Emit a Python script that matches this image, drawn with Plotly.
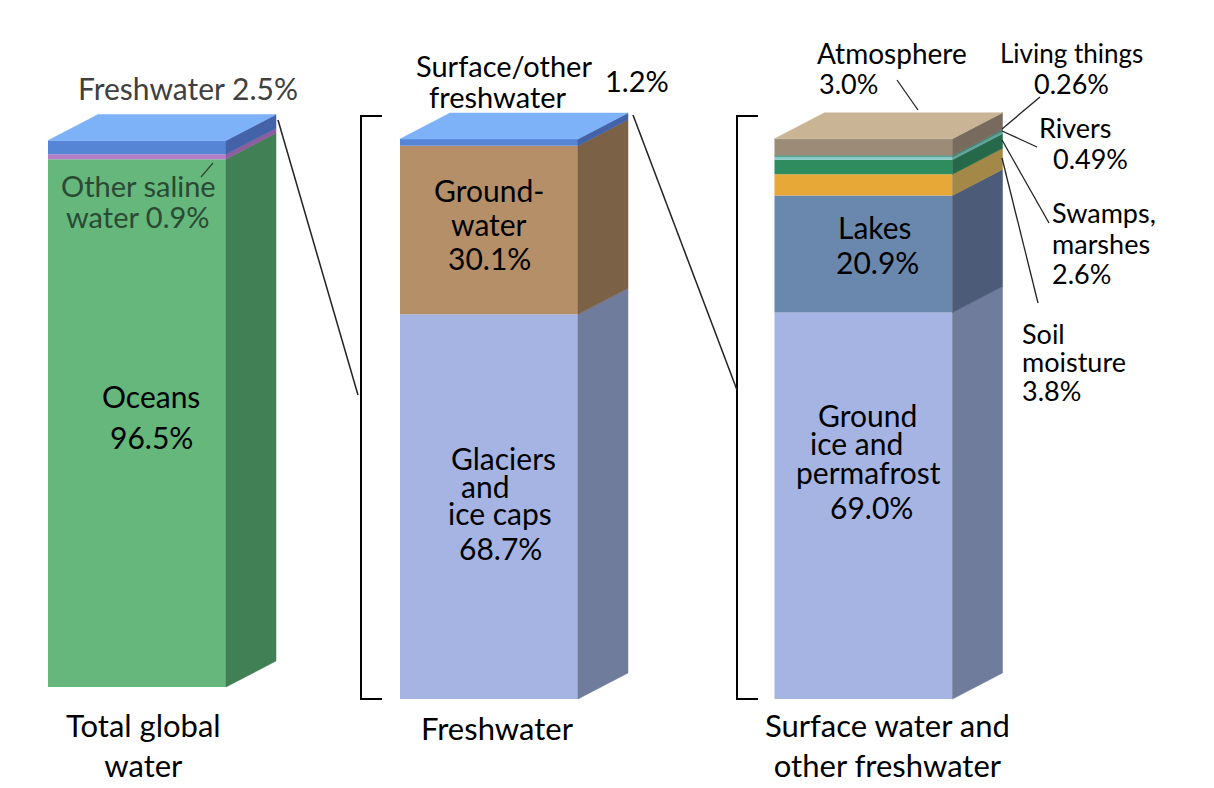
import plotly.graph_objects as go
import numpy as np

# ---------------- data ----------------
total_labels = ["Oceans", "Other saline water", "Freshwater"]
total_values = [96.5, 0.9, 2.5]

fresh_labels = ["Glaciers and ice caps", "Groundwater", "Surface/other freshwater"]
fresh_values = [68.7, 30.1, 1.2]

surface_labels = ["Ground ice and permafrost", "Lakes", "Soil moisture",
                  "Swamps, marshes", "Rivers", "Living things", "Atmosphere"]
surface_values = [69.0, 20.9, 3.8, 2.6, 0.49, 0.26, 3.0]

category_labels = ["Total global<br>water", "Freshwater",
                   "Surface water and<br>other freshwater"]

# ---------------- styles ----------------
OFF = 8                      # page body margin of the browser
W, H = 1214 - OFF, 788 - OFF
FONT = "Lato"

total_front = ["#65b77c", "#b57dc7", "#5685d6"]
total_side = ["#417f55", "#8c5e9c", "#4462a8"]
fresh_front = ["#a5b4e3", "#b48f67", "#5685d6"]
fresh_side = ["#707c9b", "#7b6247", "#4462a8"]
surf_front = ["#a5b4e3", "#6a88ad", "#e8a838", "#2f8c5e", "#86c5c2", "#5aa58f", "#9c8b77"]
surf_side = ["#707c9b", "#4b5b78", "#a38848", "#25694a", "#5fa39a", "#3f7f6c", "#786b5e"]
top_blue = "#7db1f8"
top_tan = "#c9b596"

BAR_W = 178
DX = 50          # depth, px to the right
DY_PX = 26       # depth, px upward

bars = [
    dict(cx=137, axis="y", values=total_values, labels=total_labels,
         front=total_front, side=total_side, top=top_blue),
    dict(cx=489, axis="y2", values=fresh_values, labels=fresh_labels,
         front=fresh_front, side=fresh_side, top=top_blue),
    dict(cx=863.5, axis="y3", values=surface_values, labels=surface_labels,
         front=surf_front, side=surf_side, top=top_tan),
]

# reference pixel rows of value 0 and value 100 for each axis
axis_px = {"y": (687, 140), "y2": (699, 139), "y3": (699, 139)}


def axis_range(bottom_px, top_px):
    s = (bottom_px - top_px) / 100.0
    b = bottom_px - OFF
    t = top_px - OFF
    return [-(H - b) / s, 100 + t / s], s


def py(y):
    return 1 - (y - OFF) / H


fig = go.Figure()

for b in bars:
    ax = b["axis"]
    rng, s = axis_range(*axis_px[ax])
    dd = DY_PX / s
    vals = np.array(b["values"], dtype=float)
    bases = np.concatenate([[0], np.cumsum(vals)[:-1]])
    xl = b["cx"] - BAR_W / 2
    xr = b["cx"] + BAR_W / 2
    for v, base, lab, fc in zip(vals, bases, b["labels"], b["front"]):
        fig.add_trace(go.Bar(x=[b["cx"]], y=[v], base=[base], width=BAR_W,
                             marker=dict(color=fc, line=dict(width=0)),
                             name=lab, yaxis=ax, showlegend=False,
                             hovertemplate=f"{lab}: {v}%<extra></extra>"))
    for v, base, sc in zip(vals, bases, b["side"]):
        top = base + v
        fig.add_trace(go.Scatter(
            x=[xr, xr + DX, xr + DX, xr, xr],
            y=[base, base + dd, top + dd, top, base],
            fill="toself", fillcolor=sc, mode="lines",
            line=dict(width=0.5, color=sc), yaxis=ax,
            showlegend=False, hoverinfo="skip"))
    T = vals.sum()
    fig.add_trace(go.Scatter(
        x=[xl, xr, xr + DX, xl + DX, xl],
        y=[T, T, T + dd, T + dd, T],
        fill="toself", fillcolor=b["top"], mode="lines",
        line=dict(width=0.5, color=b["top"]), yaxis=ax,
        showlegend=False, hoverinfo="skip"))

# ---------------- annotations ----------------
M = 30   # main label size
R = 27   # right-side label size
texts = [
    ("Freshwater 2.5%", 188, 88, "center", "#404040", 30),
    ("Other saline", 138, 186, "center", "#2b4a33", 29),
    ("water 0.9%", 138, 217, "center", "#2b4a33", 29),
    ("Oceans", 151, 396, "center", "black", M),
    ("96.5%", 151, 437, "center", "black", M),
    ("Surface/other", 504, 66, "center", "black", 29),
    ("freshwater", 498, 96, "center", "black", 29),
    ("1.2%", 637, 80, "center", "black", 29),
    ("Ground-", 489, 190, "center", "black", M),
    ("water", 489, 224, "center", "black", M),
    ("30.1%", 489, 258, "center", "black", M),
    ("Glaciers", 503, 458, "center", "black", M),
    ("and", 485, 486, "center", "black", M),
    ("ice caps", 500, 513, "center", "black", M),
    ("68.7%", 500, 548, "center", "black", M),
    ("Lakes", 875, 227, "center", "black", M),
    ("20.9%", 877, 262, "center", "black", M),
    ("Ground", 867, 415, "center", "black", M),
    ("ice and", 856, 443, "center", "black", M),
    ("permafrost", 868, 472, "center", "black", M),
    ("69.0%", 871, 507, "center", "black", M),
    ("Atmosphere", 892, 53, "center", "black", 28),
    ("3.0%", 817, 83, "left", "black", R),
    ("Living things", 1071, 53, "center", "black", 26),
    ("0.26%", 1071, 83, "center", "black", R),
    ("Rivers", 1075, 127, "center", "black", R),
    ("0.49%", 1090, 158, "center", "black", R),
    ("Swamps,", 1050, 213, "left", "black", R),
    ("marshes", 1050, 243, "left", "black", R),
    ("2.6%", 1050, 273, "left", "black", R),
    ("Soil", 1020, 333, "left", "black", R),
    ("moisture", 1020, 362, "left", "black", R),
    ("3.8%", 1020, 390, "left", "black", R),
]
cat_pos = [(143, 745), (497, 728), (887, 745)]
annotations = []
for t, x, y, xa, c, sz in texts:
    annotations.append(dict(text=t, x=x, y=py(y), xref="x", yref="paper",
                            xanchor=xa, yanchor="middle", showarrow=False,
                            font=dict(family=FONT, size=sz, color=c)))
for lab, (x, y) in zip(category_labels, cat_pos):
    annotations.append(dict(text=lab, x=x, y=py(y), xref="x", yref="paper",
                            xanchor="center", yanchor="middle", showarrow=False,
                            font=dict(family=FONT, size=31, color="black")))

# ---------------- lines ----------------
shapes = []
def seg(x0, y0, x1, y1, w=1.5, c="#222"):
    shapes.append(dict(type="line", xref="x", yref="paper", x0=x0, x1=x1,
                       y0=py(y0), y1=py(y1), line=dict(color=c, width=w)))

def bracket(xv, xt, y0, y1):
    shapes.append(dict(type="path", xref="x", yref="paper",
                       path=f"M {xt} {py(y0)} L {xv} {py(y0)} L {xv} {py(y1)} L {xt} {py(y1)}",
                       line=dict(color="black", width=2)))

bracket(361, 382, 116, 699)
bracket(737, 758, 116, 699)
seg(278, 120, 358, 395)
seg(633, 115, 737, 390)
seg(897, 80, 918, 110, 1.3)
seg(1002, 129, 1040, 97, 1.3)
seg(1002, 131, 1037, 147, 1.3)
seg(1002, 140, 1049, 223, 1.3)
seg(1002, 158, 1038, 303, 1.3)
seg(213, 163, 201, 177, 1.2, "#2b4a33")

layout_axes = {}
for name, key in [("y", "yaxis"), ("y2", "yaxis2"), ("y3", "yaxis3")]:
    rng, _ = axis_range(*axis_px[name])
    layout_axes[key] = dict(range=rng, domain=[0, 1], visible=False,
                            fixedrange=True, anchor="x")

fig.update_layout(
    width=W, height=H, margin=dict(l=0, r=0, t=0, b=0),
    paper_bgcolor="white", plot_bgcolor="rgba(0,0,0,0)",
    barmode="overlay", showlegend=False,
    xaxis=dict(range=[OFF, OFF + W], domain=[0, 1], visible=False, fixedrange=True),
    annotations=annotations, shapes=shapes,
    **layout_axes,
)

fig.write_html("out.html")
